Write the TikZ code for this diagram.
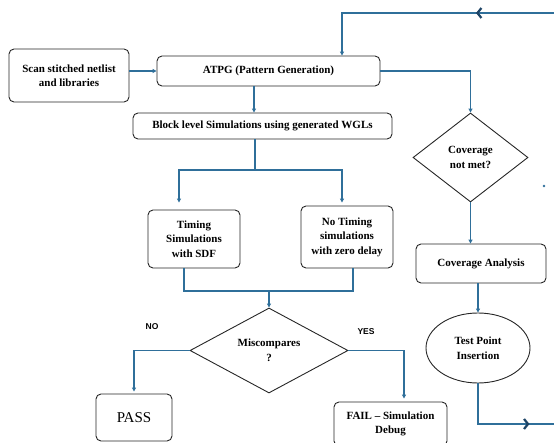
\documentclass[tikz,border=0pt]{standalone}
\usepackage{fontspec}
\setmainfont{Liberation Serif}
\setsansfont{Liberation Sans}
\usetikzlibrary{arrows.meta,shapes.geometric,decorations.markings}
\definecolor{linec}{HTML}{2F6F9A}
\definecolor{chevc}{HTML}{1E4466}
\definecolor{boxc}{HTML}{262626}
\tikzset{
  box/.style={draw=boxc, line width=0.9pt, rounded corners=5pt, align=center,
    font=\bfseries\fontsize{11}{14.5}\selectfont, inner sep=0pt},
  dia/.style={draw=boxc, line width=0.9pt, shape=diamond, align=center,
    font=\bfseries\fontsize{11}{14.5}\selectfont, inner sep=0pt},
  conn/.style={draw=linec, line width=1.1pt},
  arr/.style={conn, -{Triangle[length=4pt,width=4pt]}},
  lbl/.style={font=\sffamily\bfseries\fontsize{8.5}{10}\selectfont},
  chevat/.style={postaction={decorate}, decoration={markings,
    mark=at position #1 with {\arrow{Straight Barb[length=4pt,width=10pt,line width=2.2pt,color=chevc]}}}}
}
\begin{document}
\begin{tikzpicture}[x=1pt,y=-1pt]
\useasboundingbox (0,0) rectangle (554,443);
% nodes
\node[box, minimum width=120pt, minimum height=53pt] (scan) at (69,75.5) {Scan stitched netlist\\and libraries};
\node[box, minimum width=223pt, minimum height=30pt] (atpg) at (268.5,71) {ATPG (Pattern Generation)};
\node[box, minimum width=259pt, minimum height=26pt] (block) at (262.5,126) {Block level Simulations using generated WGLs};
\node[box, minimum width=92pt, minimum height=58pt] (timing) at (194,239) {Timing\\Simulations\\with SDF};
\node[box, minimum width=92pt, minimum height=62pt] (notiming) at (347,237) {No Timing\\simulations\\with zero delay};
\node[dia, minimum width=158pt, minimum height=85pt] (mis) at (269,350.5) {Miscompares\\?};
\node[dia, minimum width=115pt, minimum height=89pt] (cov) at (470.5,157.5) {Coverage\\not met?};
\node[box, minimum width=130pt, minimum height=39pt] (ca) at (481,263.5) {Coverage Analysis};
\node[draw=boxc, line width=0.9pt, ellipse, minimum width=104pt, minimum height=70pt, inner sep=0pt, align=center,
  font=\bfseries\fontsize{11}{14.5}\selectfont] (tp) at (478,348) {Test Point\\Insertion};
\node[box, minimum width=76pt, minimum height=47pt, font=\fontsize{15}{17}\selectfont] (pass) at (134,417.5) {PASS};
\node[box, minimum width=113pt, minimum height=44pt] (fail) at (390.5,424) {FAIL -- Simulation\\Debug};
\node[lbl] (no) at (152,327) {NO};
\node[lbl] (yes) at (366,332) {YES};
% helper coordinates
\coordinate (inR) at (554,13);
\coordinate (outR) at (554,424);
\coordinate (split) at (255,170);
\coordinate (mL) at (184,291);
\coordinate (mR) at (353,291);
\coordinate (merge) at (269,291);
% connectors
\draw[arr] (scan.east |- atpg.west) -- (atpg.west);
\draw[arr, chevat=78pt] (inR) -| ([xshift=73.5pt]atpg.north);
\draw[arr] ([xshift=-14.5pt]atpg.south) -- ([xshift=-8.5pt]block.north);
\draw[conn] (block.south -| split) -- (split);
\draw[arr] (split) -| ([xshift=-15pt,yshift=7pt]timing.north);
\draw[arr] (split) -| ([xshift=-5pt,yshift=3pt]notiming.north);
\draw[conn] ([xshift=-10pt]timing.south) -- (mL) -- (mR) -- ([xshift=6pt]notiming.south);
\draw[arr] (merge) -- (mis.north);
\draw[arr] (mis.west) -| ([yshift=2pt]pass.north);
\draw[arr] (mis.east) -| ([xshift=13.5pt,yshift=3pt]fail.north);
\draw[arr] (atpg.east) -| (cov.north);
\draw[arr] (cov.south) -- (cov.south |- ca.north);
\draw[arr] (ca.south -| tp.north) -- (tp.north);
\draw[conn, chevat=92pt] (tp.south) |- (outR);
\fill[linec] (544,186) circle (1.3);
\end{tikzpicture}
\end{document}
